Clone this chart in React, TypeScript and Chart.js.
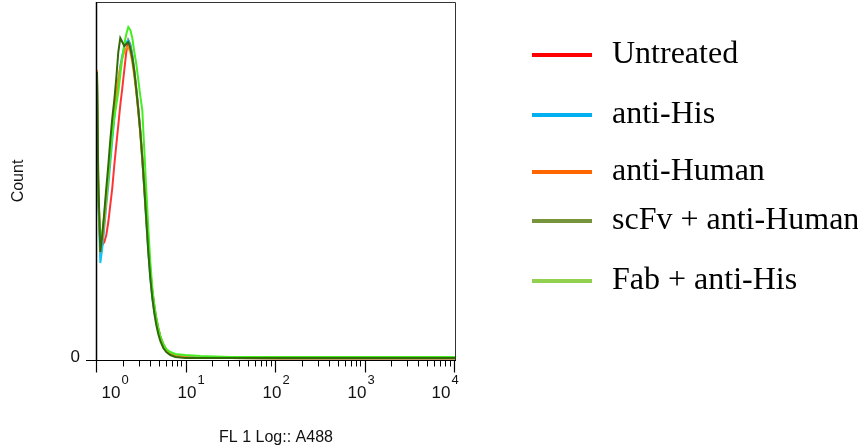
import React, { useEffect, useRef } from "react";
import { Chart, registerables } from "chart.js";

Chart.register(...registerables);

// FL1 channel positions (log scale, 10^0 .. 10^4)
const fl1 = [1.0, 1.034, 1.089, 1.146, 1.207, 1.27, 1.338, 1.408, 1.482, 1.561, 1.643, 1.73, 1.821, 1.918, 2.018, 2.125, 2.237, 2.356, 2.48, 2.611, 2.749, 2.894, 3.047, 3.207, 3.377, 3.555, 3.743, 3.94, 4.149, 4.368, 4.598, 4.841, 5.096, 5.506, 5.948, 6.592, 7.498, 9.7, 14.26, 30.9, 111.7, 676, 4098, 10000];

const untreated = [140, 80, 57.5, 57.5, 59, 62.5, 69, 77.5, 86, 97.5, 107.5, 117.5, 127.5, 136, 145, 154, 160, 158, 152.5, 145, 136, 126, 115, 102, 87.5, 72.5, 57.5, 45, 35, 27, 21, 16, 12, 8, 5, 3, 2, 1.5, 1, 1, 0.8, 0.7, 0.7, 0.7];
const antiHis = [142.5, 80, 48.5, 56, 66, 77.5, 87.5, 98.5, 110, 121, 131, 140, 147, 152.5, 156.5, 159, 160, 157.5, 152, 144, 135, 125, 114, 100, 85, 69, 54, 41, 31, 24, 18.5, 14.5, 11, 7, 4.5, 3, 2, 1.5, 1, 1, 0.8, 0.7, 0.7, 0.7];
const antiHuman = [145, 85, 56, 60, 69, 80, 91, 102.5, 114, 124, 132.5, 140, 146, 151, 154, 156, 156.5, 154, 149, 142, 133.5, 124, 113, 100, 86, 71, 56, 43.5, 33, 25.5, 19.5, 15, 11.5, 7.5, 5, 3, 2, 1.5, 1, 1, 0.8, 0.7, 0.7, 0.7];
const scFvAntiHuman = [144, 90, 54, 62.5, 74, 86, 97.5, 110, 121, 130, 141, 154, 161, 159, 157, 158, 159, 156, 151, 144, 135, 125, 114, 101, 86, 70, 54, 41, 31, 23.5, 17.5, 13, 9.5, 6, 4, 2.5, 1.5, 1, 1, 1, 1, 1, 1, 1];
const fabAntiHis = [141, 82.5, 60, 64, 72.5, 82.5, 92.5, 102.5, 112.5, 121, 127.5, 134, 142.5, 151, 158, 163, 166.5, 165, 161, 154, 148, 140, 132, 125, 105, 85, 66, 49, 36, 27.5, 21, 16, 12, 8, 5.5, 4, 3, 2.5, 2, 1.5, 1.5, 1.5, 1.5, 1.5];

const seriesNames = ["Untreated", "anti-His", "anti-Human", "scFv + anti-Human", "Fab + anti-His"];
const seriesValues = [untreated, antiHis, antiHuman, scFvAntiHuman, fabAntiHis];
const lineColors = ["#ff3333", "#11c4f4", "#ff8a10", "#336a08", "#44ee22"];
const legendColors = ["#ff0000", "#00b0f0", "#ff6600", "#77933c", "#92d050"];
const drawOrder = [5, 4, 3, 1, 2];

const xTickExponents = [0, 1, 2, 3, 4];
const yTickLabels = ["0"];
const xTitle = "FL 1 Log:: A488";
const yTitle = "Count";
const countMax = 179;

const sansFont = '"Liberation Sans", Arial, sans-serif';
const serifFont = '"Liberation Serif", "Times New Roman", serif';

const facsPlugin = {
  id: "facsAxes",
  afterDatasetsDraw(chart: any) {
    const { ctx, chartArea: a, scales } = chart;
    const x = scales.x;
    const y = scales.y;
    const y0 = Math.round(y.getPixelForValue(0)) + 0.5;
    ctx.save();
    ctx.strokeStyle = "#000";
    // frame top & right
    ctx.lineWidth = 1;
    ctx.strokeStyle = "#333";
    ctx.beginPath();
    ctx.moveTo(a.left, a.top + 0.5);
    ctx.lineTo(a.right + 0.5, a.top + 0.5);
    ctx.lineTo(a.right + 0.5, y0);
    ctx.stroke();
    // left axis
    ctx.strokeStyle = "#000";
    ctx.lineWidth = 1.5;
    ctx.beginPath();
    ctx.moveTo(a.left - 0.5, a.top);
    ctx.lineTo(a.left - 0.5, y0);
    ctx.stroke();
    // bottom axis (extends left to y tick)
    ctx.lineWidth = 1;
    ctx.beginPath();
    ctx.moveTo(a.left - 11, y0);
    ctx.lineTo(a.right + 1, y0);
    ctx.stroke();
    // x ticks
    const offsets = [5, -9, -13, -18, -23];
    xTickExponents.forEach((e, i) => {
      const px = Math.round(x.getPixelForValue(Math.pow(10, e))) - 0.5;
      ctx.lineWidth = 1.2;
      ctx.beginPath();
      ctx.moveTo(px, y0);
      ctx.lineTo(px, y0 + 12);
      ctx.stroke();
      if (i < xTickExponents.length - 1) {
        for (let k = 2; k <= 9; k++) {
          const mp = Math.round(x.getPixelForValue(k * Math.pow(10, e))) - 0.5;
          ctx.lineWidth = 1;
          ctx.beginPath();
          ctx.moveTo(mp, y0);
          ctx.lineTo(mp, y0 + 6);
          ctx.stroke();
        }
      }
      // label 10^e
      ctx.fillStyle = "#111";
      ctx.textAlign = "left";
      ctx.textBaseline = "alphabetic";
      ctx.font = `17px ${sansFont}`;
      const gx = px + offsets[i];
      ctx.fillText("10", gx, y0 + 37);
      const w = ctx.measureText("10").width;
      ctx.font = `13px ${sansFont}`;
      ctx.fillText(String(e), gx + w + 1, y0 + 23);
    });
    // y tick label
    ctx.font = `17px ${sansFont}`;
    ctx.textAlign = "right";
    ctx.textBaseline = "alphabetic";
    yTickLabels.forEach((t) => {
      ctx.fillText(t, a.left - 17, y0 + 1);
    });
    // axis titles
    ctx.font = `16px ${sansFont}`;
    ctx.textAlign = "center";
    ctx.fillText(xTitle, (a.left + a.right) / 2, 442);
    ctx.save();
    ctx.translate(19, 181);
    ctx.rotate(-Math.PI / 2);
    ctx.textBaseline = "middle";
    ctx.fillText(yTitle, 0, 0);
    ctx.restore();
    // legend
    const legendY = [55, 115, 172, 221, 281];
    chart.data.datasets.forEach((ds: any, i: number) => {
      const ly = legendY[i];
      ctx.strokeStyle = legendColors[i];
      ctx.lineWidth = 4;
      ctx.beginPath();
      ctx.moveTo(532, ly);
      ctx.lineTo(592, ly);
      ctx.stroke();
      ctx.fillStyle = "#000";
      ctx.font = `32px ${serifFont}`;
      ctx.textAlign = "left";
      ctx.textBaseline = "alphabetic";
      ctx.fillText(ds.label, 612, ly + 8);
    });
    ctx.restore();
  },
};

export default function App() {
  const ref = useRef<HTMLCanvasElement>(null);
  useEffect(() => {
    if (!ref.current) return;
    const chart = new Chart(ref.current, {
      type: "line",
      data: {
        datasets: seriesNames.map((name, i) => ({
          label: name,
          data: fl1.map((v, j) => ({ x: v, y: seriesValues[i][j] })),
          borderColor: lineColors[i],
          backgroundColor: lineColors[i],
          borderWidth: 2,
          pointRadius: 0,
          tension: 0,
          fill: false,
          order: drawOrder[i],
        })),
      },
      options: {
        responsive: false,
        animation: false,
        layout: { padding: { left: 97, right: 403, top: 2, bottom: 86 } },
        plugins: { legend: { display: false }, tooltip: { enabled: false } },
        scales: {
          x: { type: "logarithmic", min: 1, max: 10000, display: false },
          y: { type: "linear", min: 0, max: countMax, display: false },
        },
      },
      plugins: [facsPlugin],
    });
    return () => chart.destroy();
  }, []);
  return (
    <div style={{ position: "absolute", left: 0, top: 0, width: 858, height: 446, background: "#fff" }}>
      <canvas ref={ref} width={858} height={446} style={{ display: "block" }} />
    </div>
  );
}
